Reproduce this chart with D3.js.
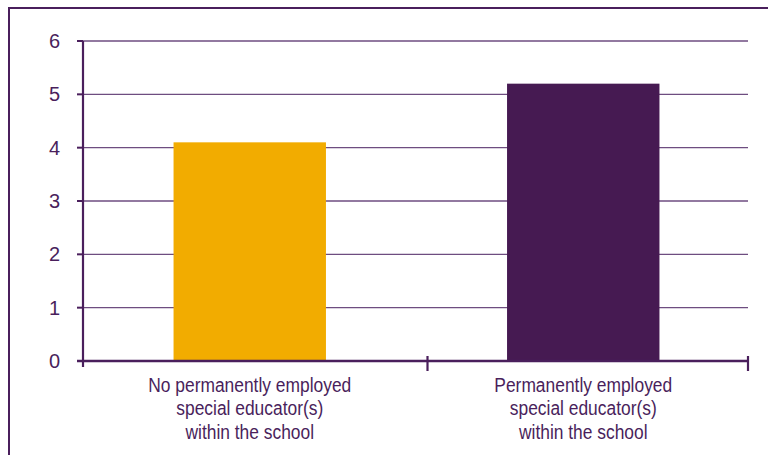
<!DOCTYPE html>
<html><head><meta charset="utf-8">
<script src="https://cdn.jsdelivr.net/npm/d3@7"></script>
<style>body{margin:0;background:#fff}svg{display:block}</style>
</head><body>
<script>
const categories = [
  ["No permanently employed", "special educator(s)", "within the school"],
  ["Permanently employed", "special educator(s)", "within the school"]
];
const values = [4.1, 5.2];
const colors = ["#F2AC00", "#461A52"];
const yTicks = [0, 1, 2, 3, 4, 5, 6];

const W = 768, H = 455;
const m = {left: 83, right: 20, top: 41, bottom: 94};
const ink = "#4a1f5c";
const font = "'Liberation Sans', Arial, sans-serif";

const svg = d3.select("body").append("svg").attr("width", W).attr("height", H);

// frame
svg.append("path").attr("d", `M9,${H+5}V8H${W+5}`).attr("fill","none")
  .attr("stroke", ink).attr("stroke-width", 2);

const x = d3.scaleBand().domain(d3.range(categories.length))
  .range([m.left, W - m.right + 2]).paddingInner(0.543).paddingOuter(0.2715);
const y = d3.scaleLinear().domain([0, 6]).range([H - m.bottom, m.top]);

// gridlines
svg.append("g").selectAll("line").data(yTicks.filter(d => d > 0)).join("line")
  .attr("x1", m.left).attr("x2", W - m.right)
  .attr("y1", d => y(d)).attr("y2", d => y(d))
  .attr("stroke", "#6e4d80").attr("stroke-width", 1.4);

// bars
svg.append("g").selectAll("rect").data(values).join("rect")
  .attr("x", (d, i) => x(i)).attr("width", x.bandwidth())
  .attr("y", d => y(d)).attr("height", d => y(0) - y(d))
  .attr("fill", (d, i) => colors[i]);

// y axis
const ya = svg.append("g");
ya.append("line").attr("x1", m.left).attr("x2", m.left).attr("y1", y(6)).attr("y2", y(0) + 6)
  .attr("stroke", ink).attr("stroke-width", 2.2);
ya.selectAll(".t").data(yTicks).join("line").attr("class","t")
  .attr("x1", m.left - 6).attr("x2", m.left).attr("y1", d => y(d)).attr("y2", d => y(d))
  .attr("stroke", ink).attr("stroke-width", 2);
ya.selectAll("text").data(yTicks).join("text")
  .attr("x", 60).attr("y", d => y(d)).attr("dy", "0.35em").attr("text-anchor", "end")
  .attr("font-family", font).attr("font-size", 20)
  .attr("fill", ink).text(d => d);

// x axis
const xa = svg.append("g");
xa.append("line").attr("x1", m.left - 6).attr("x2", W - m.right).attr("y1", y(0)).attr("y2", y(0))
  .attr("stroke", ink).attr("stroke-width", 2.6);
const dividers = [m.left + x.step() + 11, W - m.right];
xa.selectAll(".t").data(dividers).join("line").attr("class","t")
  .attr("x1", d => d).attr("x2", d => d)
  .attr("y1", y(0) - 5).attr("y2", y(0) + 10)
  .attr("stroke", ink).attr("stroke-width", 2.2);
const lab = xa.selectAll("text").data(categories).join("text")
  .attr("text-anchor", "middle")
  .attr("font-family", font).attr("font-size", 20)
  .attr("fill", ink)
  .attr("transform", (d, i) => `translate(${x(i) + x.bandwidth()/2},${y(0) + 31}) scale(0.87,1)`);
lab.selectAll("tspan").data(d => d).join("tspan")
  .attr("x", 0).attr("dy", (d, i) => i ? 23.5 : 0).text(d => d);
</script>
</body></html>
